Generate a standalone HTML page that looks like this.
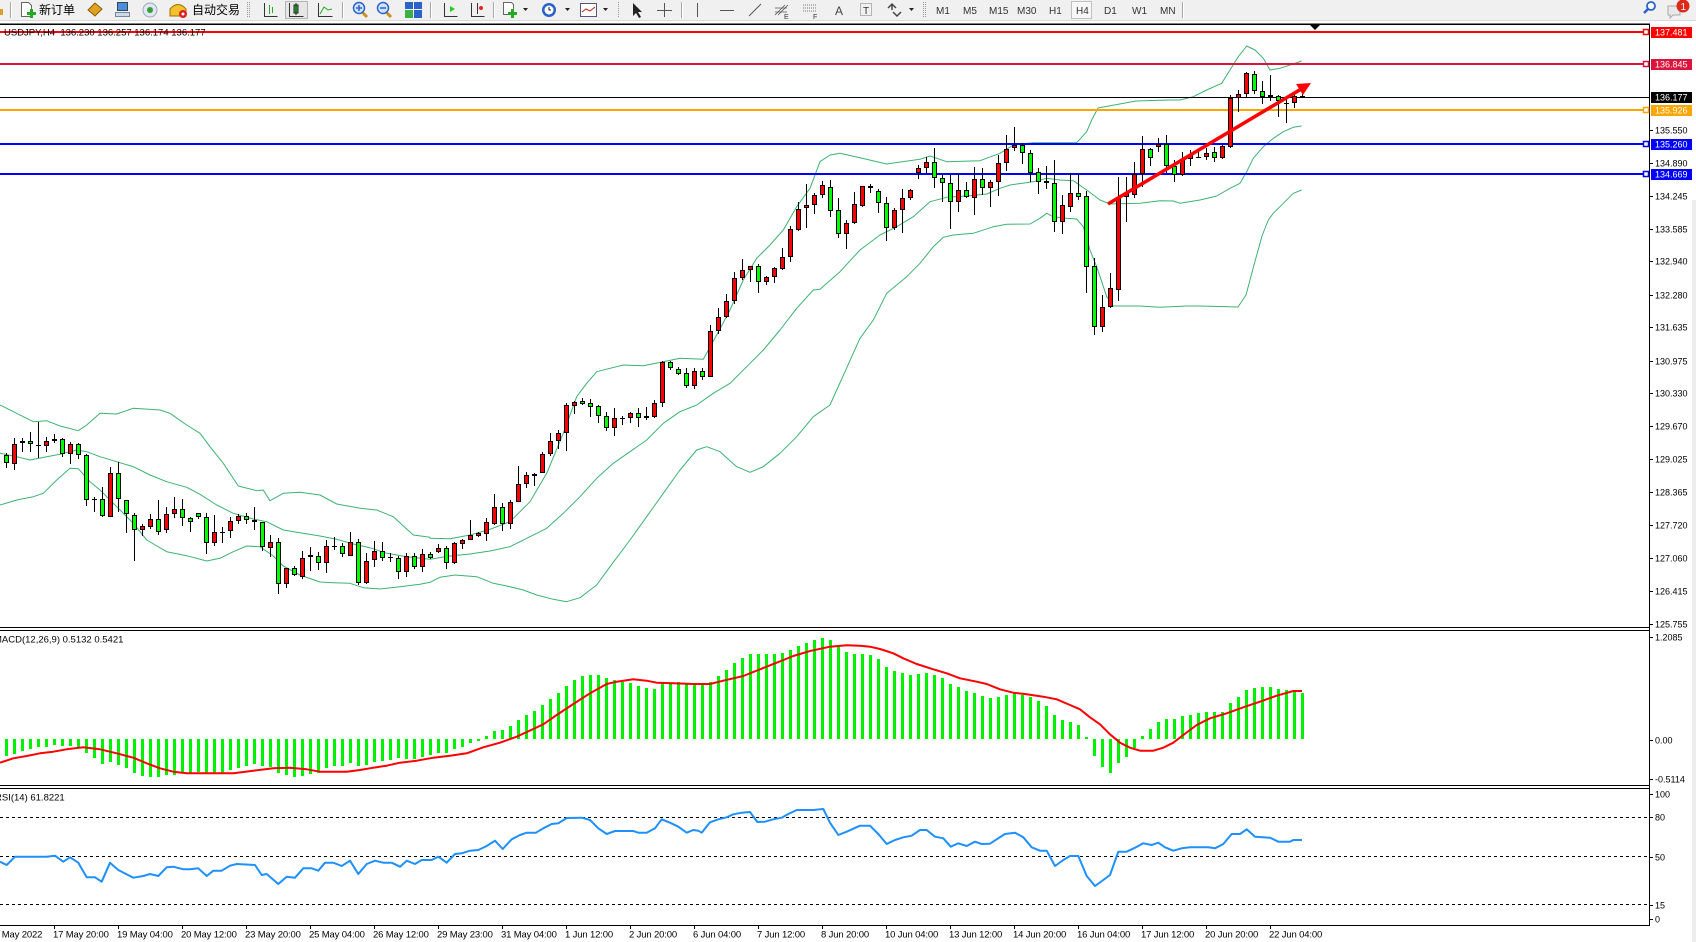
<!DOCTYPE html>
<html><head><meta charset="utf-8">
<style>
html,body{margin:0;padding:0;background:#fff;}
body{width:1696px;height:942px;overflow:hidden;position:relative;}
svg{position:absolute;left:0;top:0;}
text{font-family:"Liberation Sans","Noto Sans CJK SC",sans-serif;}
</style></head><body>
<svg id="s" width="1696" height="942" viewBox="0 0 1696 942" xmlns="http://www.w3.org/2000/svg">
<rect x="0" y="0" width="1696" height="942" fill="#fff"/>
<!-- toolbar -->
<rect x="0" y="0" width="1696" height="20" fill="#f0f0f0"/>
<rect x="0" y="20" width="1696" height="1" fill="#d8d8d8"/>
<rect x="0" y="9" width="3" height="6" fill="#d9a030"/>
<rect x="10" y="2" width="1" height="16" fill="#a8a8a8"/><rect x="11" y="2" width="1" height="16" fill="#fff"/>
<path d="M21.5 2.5h7l3 3v11h-10z" fill="#fff" stroke="#666"/>
<rect x="27" y="12" width="9" height="3" fill="#22aa22"/><rect x="30" y="9" width="3" height="9" fill="#22aa22"/>
<text x="39" y="14" font-size="12" fill="#000">新订单</text>
<polygon points="88,10 95,3 102,9 95,16" fill="#e0a020" stroke="#8a5a00"/>
<rect x="117.5" y="2.5" width="10" height="8" fill="#4a90d9" stroke="#345"/><path d="M115.5 12.5h14v4h-14z" fill="#cfd8e8" stroke="#789"/>
<circle cx="150" cy="10" r="7" fill="#dfe8ef" stroke="#9ab"/><circle cx="150" cy="10" r="3" fill="#3a9a3a"/>
<path d="M170 9 q8-9 16 0 v7 h-16z" fill="#f2c12e" stroke="#a07000"/><circle cx="183" cy="14" r="4" fill="#e02020"/><circle cx="183" cy="14" r="1.5" fill="#fff"/>
<text x="192" y="14" font-size="12" fill="#000">自动交易</text>
<line x1="247.5" y1="2" x2="247.5" y2="18" stroke="#999" stroke-dasharray="1,1"/><line x1="249.5" y1="2" x2="249.5" y2="18" stroke="#999" stroke-dasharray="1,1"/>
<path d="M264.5 3v13.5h13" fill="none" stroke="#333"/><path d="M269.5 5v9M272.5 7v6" stroke="#2a2" />
<rect x="285.5" y="1.5" width="22" height="17" fill="#e6e6e6" stroke="#b4b4b4"/>
<path d="M289.5 3v13.5h14" fill="none" stroke="#333"/><rect x="294" y="5" width="4" height="8" fill="#3c3" stroke="#222"/><line x1="296" y1="3" x2="296" y2="15" stroke="#222"/>
<path d="M318.5 3v13.5h14" fill="none" stroke="#333"/><polyline points="320,14 324,7 328,10 332,9" fill="none" stroke="#2a2"/>
<rect x="342" y="2" width="1" height="16" fill="#a8a8a8"/><rect x="343" y="2" width="1" height="16" fill="#fff"/>
<line x1="362" y1="12" x2="367" y2="17" stroke="#c89020" stroke-width="3"/><circle cx="359" cy="8" r="5.5" fill="#cfe3ff" stroke="#2a62c9" stroke-width="1.5"/><path d="M356 8h6M359 5v6" stroke="#2a62c9" stroke-width="1.5"/>
<line x1="386" y1="12" x2="391" y2="17" stroke="#c89020" stroke-width="3"/><circle cx="383" cy="8" r="5.5" fill="#cfe3ff" stroke="#2a62c9" stroke-width="1.5"/><path d="M380 8h6" stroke="#2a62c9" stroke-width="1.5"/>
<rect x="405" y="2" width="8" height="7" fill="#2a62c9"/><rect x="414" y="2" width="8" height="7" fill="#2a62c9"/><rect x="405" y="10" width="8" height="8" fill="#3cb043"/><rect x="414" y="10" width="8" height="8" fill="#2a62c9"/>
<rect x="430" y="2" width="1" height="16" fill="#a8a8a8"/><rect x="431" y="2" width="1" height="16" fill="#fff"/>
<path d="M444.5 3v13.5h13" fill="none" stroke="#333"/><polygon points="450,6 455,9 450,12" fill="#2c2"/>
<path d="M471.5 3v13.5h13M477.5 3v11" fill="none" stroke="#333"/><circle cx="481" cy="8" r="2" fill="#e22"/>
<rect x="493" y="2" width="1" height="16" fill="#a8a8a8"/><rect x="494" y="2" width="1" height="16" fill="#fff"/>
<path d="M503.5 2.5h8l2 2v10h-10z" fill="#fff" stroke="#666"/><rect x="508" y="12" width="9" height="3" fill="#22aa22"/><rect x="511" y="9" width="3" height="9" fill="#22aa22"/>
<polygon points="523,8 528,8 525.5,11" fill="#222"/>
<circle cx="549" cy="10" r="7" fill="#2a62c9"/><circle cx="549" cy="10" r="4.5" fill="#fff"/><path d="M549 7v3h2" stroke="#222" fill="none"/>
<polygon points="565,8 570,8 567.5,11" fill="#222"/>
<rect x="580.5" y="3.5" width="16" height="13" fill="#fff" stroke="#557"/><polyline points="582,12 586,9 590,11 595,7" fill="none" stroke="#c22"/>
<polygon points="603,8 608,8 605.5,11" fill="#222"/>
<line x1="618.5" y1="2" x2="618.5" y2="18" stroke="#999" stroke-dasharray="1,1"/>
<polygon points="633,3 633,16 636,13 639,18 641,17 638,12 642,12" fill="#222"/>
<path d="M664.5 3v14M657 10.5h15" stroke="#555"/>
<rect x="681" y="2" width="1" height="16" fill="#a8a8a8"/><rect x="682" y="2" width="1" height="16" fill="#fff"/>
<path d="M697.5 3v14" stroke="#555"/>
<path d="M720 10.5h14" stroke="#555"/>
<path d="M749 16l12-12" stroke="#555"/>
<path d="M775 15l10-10M778 15l10-10M775 8h12M775 12h12" stroke="#555" stroke-width="0.8"/><text x="784" y="19" font-size="7" fill="#333">E</text>
<path d="M803 5h13M803 8h13M803 11h13" stroke="#777" stroke-dasharray="1,1"/><text x="813" y="19" font-size="7" fill="#333">F</text>
<text x="835" y="15" font-size="12" fill="#444">A</text>
<rect x="860.5" y="3.5" width="11" height="12" fill="none" stroke="#777" stroke-dasharray="1,1"/><text x="863" y="14" font-size="10" fill="#333">T</text>
<path d="M888 8l4-4 4 4M892 4v6M893 12l4 4 4-4" stroke="#444" fill="none" stroke-width="1.5"/>
<polygon points="909,8 914,8 911.5,11" fill="#222"/>
<line x1="923.5" y1="2" x2="923.5" y2="18" stroke="#999" stroke-dasharray="1,1"/><line x1="925.5" y1="2" x2="925.5" y2="18" stroke="#999" stroke-dasharray="1,1"/>
<g font-size="10" fill="#333">
<text x="936" y="14">M1</text><text x="963" y="14">M5</text><text x="989" y="14">M15</text><text x="1017" y="14">M30</text><text x="1049" y="14">H1</text>
<rect x="1071.5" y="1.5" width="20" height="17" fill="#f7f7f7" stroke="#c0c0c0"/>
<text x="1076" y="14">H4</text><text x="1104" y="14">D1</text><text x="1132" y="14">W1</text><text x="1160" y="14">MN</text>
</g>
<rect x="1182" y="2" width="1" height="16" fill="#a8a8a8"/><rect x="1183" y="2" width="1" height="16" fill="#fff"/>
<line x1="1644" y1="13" x2="1648" y2="9" stroke="#2a62c9" stroke-width="2.5"/><circle cx="1651" cy="6" r="4" fill="#fff" stroke="#2a62c9" stroke-width="1.8"/>
<path d="M1668 6h12v9h-7l-3 3v-3h-2z" fill="#e8e8e8" stroke="#aaa"/>
<circle cx="1683" cy="6" r="6.5" fill="#e02818"/><text x="1680.5" y="10" font-size="10" fill="#fff">1</text>
<!-- chart frame -->
<rect x="0" y="23" width="1650" height="1" fill="#808080"/>
<rect x="0" y="24" width="1650" height="1" fill="#000"/>
<rect x="1692" y="200" width="4" height="742" fill="#ececec"/>
<g id="dyn"></g>
</svg>
<script>
(function(){
var o=[];
function r(x,y,w,h,f){o.push('<rect x="'+x+'" y="'+y+'" width="'+w+'" height="'+h+'" fill="'+f+'"/>');}
function t(x,y,s,f,sz,extra){o.push('<text x="'+x+'" y="'+y+'" font-size="'+(sz||9)+'" fill="'+(f||'#000')+'"'+(extra||'')+'>'+s+'</text>');}
function P(a,xo,yo,zmax){var res=[];for(var i=0;i<a.length;i++){if(zmax!==undefined&&a[i][0]>=zmax)continue;res.push([xo+a[i][0]/3,yo+a[i][1]/3]);}return res;}
function pl(pts,col,w){o.push('<polyline points="'+pts.map(function(p){return p[0].toFixed(1)+','+p[1].toFixed(1);}).join(' ')+'" fill="none" stroke="'+col+'" stroke-width="'+w+'" stroke-linejoin="round"/>');}

r(0,627,1650,1,'#000');r(0,630,1650,1,'#000');
r(0,785,1650,1,'#000');r(0,788,1650,1,'#000');
r(0,925,1650,1,'#000');
r(1649,24,1,902,'#000');

[817,856,904].forEach(function(y){o.push('<line x1="0" y1="'+(y+0.5)+'" x2="1649" y2="'+(y+0.5)+'" stroke="#000" stroke-dasharray="3,3"/>');});

var UA=[[0,15],[50,40],[100,65],[140,62],[180,78],[235,92],[260,75],[300,40],[350,42],[400,25],[480,30],[510,40],[560,75],[600,100],[630,140],[670,190],[715,258],[770,272],[790,270],[810,302],[850,280],[900,277],[960,285],[1010,312],[1080,325],[1130,330],[1180,350],[1240,405],[1290,412]];
var UB=[[0,1105],[60,1106],[120,1095],[180,1078],[240,1055],[300,995],[350,910],[400,790],[440,680],[470,640],[500,605],[540,595],[580,585],[640,587],[700,575],[750,565],[820,568],[860,495],[900,420],[940,330],[980,265],[1020,225],[1060,180],[1100,110],[1140,55]];
var UC=[[0,125],[30,105],[60,100],[120,113],[200,132],[300,118],[330,108],[380,125],[480,122],[540,100],[580,75],[640,68],[770,68],[800,35],[815,0]];
var UD=[[0,180],[40,170],[80,150],[125,130],[150,90],[175,50],[200,18],[225,30],[250,55],[270,90],[300,85],[330,75],[365,63]];
var MA=[[0,160],[50,170],[90,180],[140,170],[180,163],[230,150],[260,155],[300,170],[350,185],[400,200],[450,225],[500,245],[560,262],[600,283],[650,315],[700,340],[760,357],[800,365],[850,390],[900,398],[960,408],[1010,418],[1060,432],[1110,443],[1160,460],[1220,470]];
var MB=[[0,1168],[60,1158],[120,1152],[180,1143],[240,1130],[300,1100],[350,1075],[400,1030],[450,980],[500,925],[550,880],[600,845],[650,810],[700,760],[750,725],[800,705],[850,670],[900,640],[950,590],[1000,540],[1050,480],[1100,415],[1150,360]];
var MC=[[0,508],[60,455],[120,390],[180,345],[230,320],[280,290],[330,245],[380,232],[440,228],[500,222],[540,205],[570,195],[640,185],[680,175],[720,180],[760,182],[800,210],[840,240],[870,252],[960,250],[1020,242],[1060,243]];
var MD=[[0,490],[60,480],[110,468],[150,445],[180,430],[200,395],[220,355],[250,320],[280,295],[310,275],[340,262],[365,258]];
var LA=[[0,315],[50,300],[100,290],[130,280],[170,240],[210,205],[235,206],[270,245],[300,270],[350,320],[400,370],[440,420],[500,455],[560,467],[620,483],[660,475],[700,455],[740,438],[780,440],[820,468],[850,498],[900,525],[960,546],[1000,548],[1050,550],[1090,563],[1140,567],[1200,560],[1260,553]];
var LB=[[0,1237],[30,1222],[75,1215],[140,1220],[190,1240],[230,1248],[280,1260],[320,1275],[370,1288],[410,1295],[450,1283],[500,1245],[540,1190],[600,1110],[650,1040],[700,970],[750,900],[800,840],[830,830],[870,845],[920,890],[960,907],[1000,890],[1050,850],[1100,800],[1150,740],[1200,705]];
var LC=[[120,655],[160,600],[200,520],[260,470],[300,430],[340,380],[370,352],[400,345],[460,340],[520,320],[560,313],[630,312],[660,295],[680,280],[700,290],[740,295],[770,297],[790,320],[810,390],[830,440],[860,530],[880,558],[960,558],[1020,562],[1100,558],[1140,558]];
var LD=[[265,540],[280,520],[310,490],[340,460],[365,450]];
var bb='#3cb371';
pl([].concat(P(UA,0,400),P(UB,430,170),P(UC,820,120),[[1098,108],[1136,101],[1170,100]],P(UD,1180,40)),bb,1);
pl([].concat(P(MA,0,400),P(MB,430,170),P(MC,820,120),P(MD,1180,40)),bb,1);
pl([].concat(P(LA,0,400),P(LB,430,170),P(LC,820,120),[[1238,307],[1246,295],[1254,265],[1262,236]],P(LD,1180,40)),bb,1);

r(0,31,1649,2,'#ff0000');
r(0,63,1649,2,'#dc143c');
r(0,97,1649,1,'#000');
r(0,109,1649,2,'#ffa500');
r(0,143,1649,2,'#0000ff');
r(0,173,1649,2,'#0000ff');

var CA=[['g',165,190,160,205],['r',133,193,115,210],['r',123,130,115,155],['g',123,133,97,155],['d',134,134,65,175],['r',123,137,110,155],['r',117,124,103,130],['g',118,163,115,172],['r',132,163,127,193],['g',132,165,130,176],['g',165,300,162,318],['d',298,298,290,335],['g',298,348,262,350],['r',220,350,200,350],['g',220,298,187,337],['g',300,343,300,400],['g',345,390,340,482],['r',378,390,372,408],['r',357,380,343,388],['g',357,395,300,405],['r',343,390,320,400],['r',327,343,290,355],['g',327,355,297,377],['g',355,367,350,397],['g',340,352,340,357],['g',352,430,340,463],['r',397,430,345,438],['d',395,395,382,430],['r',363,393,350,415],['r',348,363,342,372],['g',348,360,340,373],['g',360,367,320,390],['g',367,442,365,452],['r',427,445,405,472],['g',427,553,415,583],['r',505,553,505,565],['g',505,525,498,528],['r',475,530,453,538],['r',465,472,440,513],['g',468,490,455,510],['r',438,490,420,518],['d',438,438,410,450],['g',438,463,430,470],['r',427,467,395,467],['g',427,550,418,555],['r',482,548,460,553],['r',453,480,423,500],['g',453,473,425,483],['d',470,470,460,487],['g',475,515,468,537],['r',467,515,460,530],['g',467,500,460,507],['r',463,500,448,515],['g',462,473,457,476],['r',445,457,432,460]];
var CB=[['g',1135,1180,1128,1198],['r',1120,1180,1115,1183],['r',1110,1123,1108,1138],['r',1095,1110,1050,1110],['r',1090,1097,1085,1100],['r',1057,1093,1045,1112],['r',1012,1062,972,1065],['g',1012,1062,1000,1082],['r',997,1063,990,1077],['r',943,997,888,997],['r',915,943,907,955],['r',912,917,910,948],['r',853,910,845,910],['r',812,853,790,857],['r',790,812,780,838],['r',706,790,700,843],['r',697,707,693,733],['g',694,703,685,706],['g',700,710,688,740],['g',708,737,705,758],['g',737,773,727,783],['r',745,773,715,798],['d',745,745,738,765],['r',730,745,727,758],['g',730,745,715,770],['r',738,745,712,750],['r',700,740,690,743],['r',577,700,572,710],['g',577,595,572,600],['g',598,613,590,615],['g',610,648,595,653],['r',603,647,595,657],['g',603,622,595,630],['r',484,622,465,622],['r',442,484,413,493],['r',392,442,373,445],['r',325,393,305,403],['r',301,325,268,330],['r',287,301,287,335],['g',287,337,283,370],['r',322,337,317,345],['r',293,322,290,340],['r',260,298,235,300],['r',178,260,168,275],['r',118,180,95,183],['r',105,115,43,175],['r',75,105,70,133],['r',45,75,33,85]];
var CC=[['g',202,273,180,292],['g',270,343,235,355],['r',310,343,300,388],['r',253,310,215,312],['r',198,257,198,260],['g',198,205,192,220],['g',213,250,208,278],['g',250,325,230,362],['r',270,325,265,330],['r',235,270,208,338],['r',210,235,208,240],['r',145,160,135,177],['r',127,145,112,160],['g',127,175,85,203],['g',175,190,165,245],['g',190,247,165,328],['r',210,245,163,275],['g',210,230,187,235],['r',178,235,140,285],['g',178,203,143,225],['r',187,203,180,262],['r',130,187,105,228],['r',88,128,45,153],['r',75,85,22,92],['g',75,100,68,133],['g',100,158,90,185],['g',157,185,145,222],['g',183,190,138,207],['g',190,307,120,335],['r',255,305,225,342],['r',220,262,160,275],['g',220,230,163,240],['g',228,440,213,520],['g',438,620,413,645],['r',560,620,525,637],['r',505,560,460,565],['r',232,510,170,543],['r',220,232,170,305],['r',162,225,125,233],['r',87,162,47,200],['g',87,115,85,137],['r',73,82,53,95],['g',73,137,45,160],['g',137,165,120,185],['r',118,165,97,168]];
var CD=[['r',345,358,330,378],['d',350,350,335,352],['r',340,350,325,360],['g',335,355,320,365],['r',318,355,315,357],['r',175,320,165,325],['r',163,175,150,215],['r',100,163,97,170],['g',103,152,93,162],['g',152,170,122,193],['r',165,172,105,183],['g',167,183,165,230],['d',190,190,170,250],['r',167,190,160,203],['g',167,172,162,175]];
var idx=0;
function drawSet(arr,yo){
  for(var k=0;k<arr.length;k++){
    var c=arr[k],cx=6+8*idx;idx++;
    var bt=Math.round(yo+c[1]/3),bb2=Math.round(yo+c[2]/3),wt=Math.round(yo+c[3]/3),wb=Math.round(yo+c[4]/3);
    r(cx,wt,1,Math.max(wb-wt,1),'#000');
    if(c[0]==='d'){r(cx-2,bt,5,1,'#000');continue;}
    var h=Math.max(bb2-bt,2);
    r(cx-2,bt,5,h,'#000');
    if(h>2) r(cx-1,bt+1,3,h-2,c[0]==='r'?'#ff0000':'#00ff00');
  }
}
drawSet(CA,400);drawSet(CB,170);drawSet(CC,120);drawSet(CD,40);

o.push('<line x1="1108" y1="204" x2="1300" y2="89.7" stroke="#ff0000" stroke-width="3.5"/>');
o.push('<polygon points="1311,83 1303,95 1296,84" fill="#ff0000"/>');

[[32,'#ff0000'],[64,'#dc143c'],[110,'#ffa500'],[144,'#0000ff'],[174,'#0000ff']].forEach(function(m){
  o.push('<rect x="1643.5" y="'+(m[0]-2.5)+'" width="5" height="5" fill="#fff" stroke="'+m[1]+'" stroke-width="1.5"/>');
});

o.push('<polygon points="1310,25 1320,25 1315,30" fill="#000"/>');

var H4=[407,402,392,388,382,380,375,377,377,380,398,413,432,425,435,443,458,467,470,472,465,465,460,458,455,460,460,460,450,443,437,433,438,440,458,465,470,467,463,460,445,438,437,428,438,435,425,422,420,415];
var H9=[387,387,380,375,368,368,358,350,340,332,318,303,300,288,270,255,243,225,207,190,168,150,138,135,135,145,150,155,160,168,173,178,160,160,155,160,160,160,155,138,120,98,85,72,72,72,72,70,60,48,40,30,25,30,50,65,72];
var H10=[72,75,87,112,123,130,135,132,130,135,145,162,172,183,190,198,205,202,195,190,195,202,213,228,255,270,276,285,320,377,410,428,400,380,355,318,297,276,268,268,258,255,250,245,245,245,218,202,180,175,172,172,177,180,183,188];
var hv=[];H4.forEach(function(v){hv.push(620+v/3);});H9.forEach(function(v){hv.push(630+v/3);});H10.forEach(function(v){hv.push(630+v/3);});
var z0=739;
for(var i=0;i<hv.length;i++){
  var cx=6+8*i,y=Math.round(hv[i]);
  if(y<z0) r(cx-1,y,3,z0-y,'#00f000'); else if(y>z0) r(cx-1,z0,3,y-z0,'#00f000');
}
var S4=[[0,428],[40,415],[80,408],[120,400],[160,395],[200,388],[250,382],[300,388],[350,400],[400,413],[440,430],[480,445],[520,455],[560,460],[700,460],[760,452],[820,445],[870,443],[920,448],[960,455],[1040,455],[1080,450],[1120,443],[1160,437]];
var S9=[[0,398],[50,392],[100,383],[150,377],[200,370],[250,352],[300,338],[350,320],[400,297],[430,283],[470,255],[520,222],[570,190],[620,162],[650,155],[700,148],[740,152],[770,158],[820,160],[880,162],[930,162],[970,152],[1030,138],[1080,118],[1130,98],[1180,78],[1230,63],[1290,50],[1340,46]];
var S10=[[0,47],[30,50],[60,57],[100,70],[130,85],[170,102],[220,118],[260,130],[300,145],[350,155],[380,162],[420,178],[460,188],[500,193],[550,200],[590,208],[630,225],[660,238],[690,262],[720,283],[750,313],[780,338],[810,353],[840,362],[880,362],[910,353],[940,338],[970,315],[1010,285],[1050,265],[1100,250],[1150,232],[1200,215],[1250,197],[1300,183],[1326,183]];
pl([].concat(P(S4,0,620),P(S9,400,630),P(S10,860,630)),'#ff0000',2);

var R4=[[0,725],[20,735],[45,710],[140,710],[165,707],[190,725],[210,712],[235,728],[260,772],[285,772],[305,785],[330,728],[355,750],[400,773],[430,768],[450,762],[475,768],[500,742],[520,740],[550,748],[570,748],[595,745],[620,768],[640,752],[665,752],[690,737],[710,732],[765,735],[785,765],[800,762],[835,792],[860,770],[885,773],[910,745],[935,745],[955,752],[975,728],[1000,728],[1025,738],[1050,722],[1075,762],[1100,732],[1125,722],[1150,728],[1175,728]];
var R9=[[0,710],[20,692],[45,702],[65,690],[95,690],[115,680],[140,698],[165,672],[185,670],[210,662],[235,660],[260,648],[285,632],[308,657],[335,628],[360,615],[380,608],[408,608],[430,595],[455,582],[475,580],[500,564],[545,563],[570,570],[595,595],[620,612],[645,603],[700,603],[715,608],[740,608],[765,595],[785,568],[810,578],[835,590],[860,608],[880,600],[895,602],[905,608],[930,577],[955,568],[980,562],[1000,553],[1025,548],[1050,546],[1072,576],[1095,575],[1120,568],[1145,563],[1165,552],[1190,540],[1240,540],[1270,537],[1290,578],[1315,615],[1340,605]];
var R10=[[0,587],[30,587],[55,612],[80,642],[105,630],[130,622],[155,617],[180,600],[200,600],[225,620],[250,625],[272,650],[295,640],[320,648],[345,635],[365,642],[390,641],[410,628],[435,612],[465,608],[490,622],[515,652],[540,662],[560,662],[585,708],[610,690],[630,678],[655,678],[680,738],[705,768],[730,750],[750,735],[775,665],[800,665],[825,653],[850,640],[875,645],[895,638],[915,652],[940,662],[965,655],[990,652],[1045,652],[1065,655],[1090,642],[1115,612],[1140,612],[1160,598],[1185,620],[1230,623],[1255,635],[1290,635],[1300,630],[1326,630]];
pl([].concat(P(R4,0,620),P(R9,400,630),P(R10,860,630)),'#1e90ff',2);

var lv=[['135.550',129.5],['134.890',163],['134.245',196],['133.585',229],['132.940',261],['132.280',294.5],['131.635',327],['130.975',360.5],['130.330',393],['129.670',426],['129.025',459],['128.365',492],['127.720',525],['127.060',558],['126.415',591],['125.755',624]];
lv.forEach(function(a){var y=Math.round(a[1]);r(1650,y,3,1,'#000');t(1655,y+3.5,a[0]);});
[['137.481',32,'#ff0000'],['136.845',64,'#dc143c'],['136.177',97,'#000000'],['135.926',110,'#ffa500'],['135.260',144,'#0000ff'],['134.669',174,'#0000ff']].forEach(function(a){
  r(1651,a[1]-5,41,11,a[2]);t(1655,a[1]+3.5,a[0],'#fff');
});
[['1.2085',637],['0.00',740],['-0.5114',779]].forEach(function(a){r(1650,a[1],3,1,'#000');t(1655,a[1]+3.5,a[0]);});
[['100',794],['80',817],['50',857],['15',905],['0',919]].forEach(function(a){r(1650,a[1],3,1,'#000');t(1655,a[1]+3.5,a[0]);});

t(4,35.5,'USDJPY,H4&#160; 136.230 136.257 136.174 136.177','#000',9.5);
t(-6,642.5,'MACD(12,26,9) 0.5132 0.5421','#000',9.5);
t(-5,800.5,'RSI(14) 61.8221','#000',9.5);

var tl=['16 May 2022','17 May 20:00','19 May 04:00','20 May 12:00','23 May 20:00','25 May 04:00','26 May 12:00','29 May 23:00','31 May 04:00','1 Jun 12:00','2 Jun 20:00','6 Jun 04:00','7 Jun 12:00','8 Jun 20:00','10 Jun 04:00','13 Jun 12:00','14 Jun 20:00','16 Jun 04:00','17 Jun 12:00','20 Jun 20:00','22 Jun 04:00'];
for(var k=0;k<tl.length;k++){
  var x=54+64*(k-1);
  if(x>=0) r(x,926,1,3,'#000');
  t(x-1,937.5,tl[k],'#000',9.5,' letter-spacing="-0.15"');
}
document.getElementById('dyn').innerHTML=o.join('');
})();
</script>
</body></html>
